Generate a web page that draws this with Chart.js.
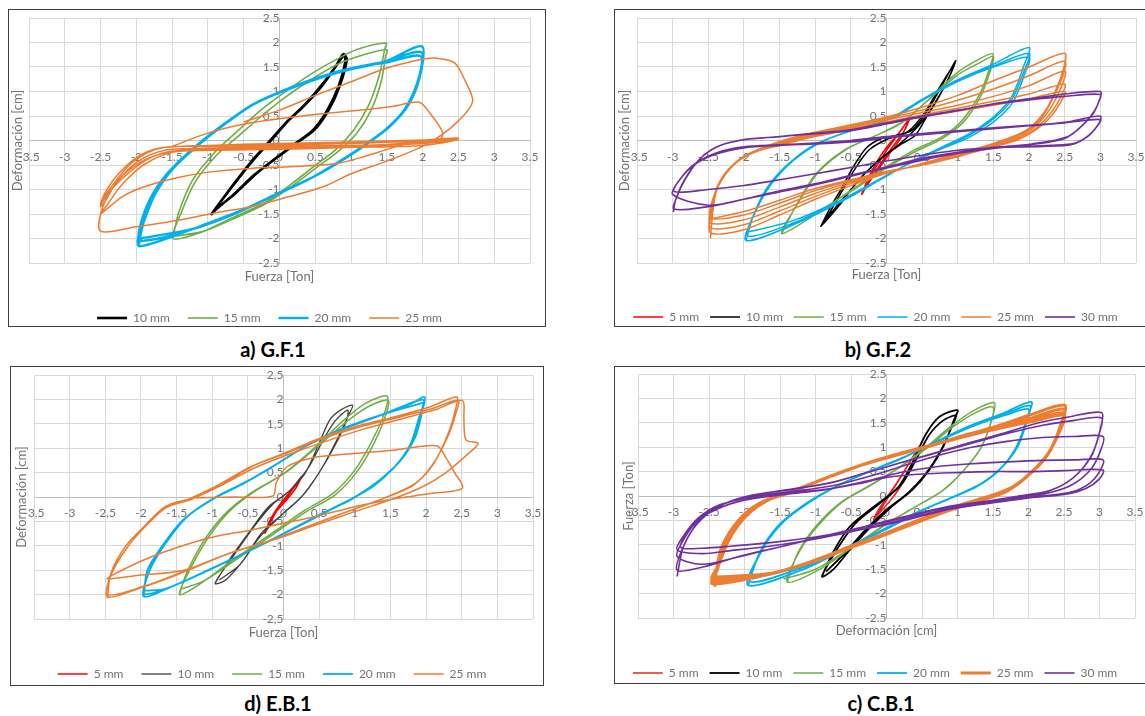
<!DOCTYPE html>
<html>
<head>
<meta charset="utf-8">
<script src="https://cdn.jsdelivr.net/npm/chart.js@4.4.1/dist/chart.umd.min.js"></script>
<style>
  body { margin: 0; width: 1145px; height: 716px; overflow: hidden; background: #fff; }
  .panel { position: absolute; border: 1px solid #404040; overflow: hidden; background: #fff; box-sizing: border-box; }
  .panel canvas { position: absolute; left: 0; top: 0; }
  .cap { position: absolute; width: 200px; text-align: center; font: bold 20px Lato, sans-serif; color: #000; line-height: 24px; }
</style>
</head>
<body>
<script>
// ---------- a) G.F.1  (x: Fuerza [Ton], y: Deformación [cm]) ----------
const gf1_10 = [[-0.95,-1.5],[-0.66,-0.93],[-0.41,-0.46],[-0.16,-0.05],[0.09,0.36],[0.34,0.7],[0.59,1.11],[0.79,1.52],[0.89,1.76],[0.94,1.65],[0.84,1.11],[0.69,0.63],[0.49,0.22],[0.24,-0.05],[-0.01,-0.32],[-0.31,-0.66],[-0.61,-1.07],[-0.86,-1.37],[-0.95,-1.5],[-0.64,-0.9],[-0.38,-0.42],[-0.12,0.0],[0.12,0.4],[0.36,0.74],[0.6,1.15],[0.78,1.5],[0.9,1.74],[0.92,1.6],[0.82,1.08],[0.66,0.6],[0.46,0.2],[0.2,-0.08],[-0.05,-0.36],[-0.35,-0.7],[-0.64,-1.1],[-0.9,-1.42]];
const gf1_15 = [[-1.49,-2.0],[-1.41,-1.48],[-1.21,-0.8],[-0.91,-0.25],[-0.61,0.16],[-0.31,0.56],[-0.01,0.9],[0.39,1.31],[0.79,1.65],[1.09,1.86],[1.49,1.99],[1.47,1.86],[1.39,1.31],[1.24,0.7],[1.04,0.22],[0.79,-0.18],[0.49,-0.52],[0.19,-0.86],[-0.21,-1.27],[-0.71,-1.61],[-1.11,-1.88],[-1.49,-2.0],[-1.38,-1.5],[-1.18,-0.85],[-0.88,-0.3],[-0.55,0.12],[-0.25,0.5],[0.05,0.85],[0.45,1.25],[0.85,1.58],[1.2,1.76],[1.5,1.85],[1.48,1.7],[1.42,1.2],[1.28,0.62],[1.08,0.15],[0.82,-0.22],[0.52,-0.55],[0.22,-0.88],[-0.18,-1.28],[-0.68,-1.62],[-1.08,-1.86],[-1.45,-1.95]];
const gf1_20 = [[-1.96,-2.16],[-1.96,-1.82],[-1.81,-1.2],[-1.56,-0.66],[-1.21,-0.18],[-0.81,0.29],[-0.41,0.7],[-0.01,0.97],[0.49,1.24],[0.99,1.45],[1.49,1.62],[1.99,1.92],[1.96,1.3],[1.8,0.72],[1.55,0.3],[1.24,-0.05],[0.89,-0.39],[0.49,-0.73],[-0.01,-1.07],[-0.51,-1.41],[-1.11,-1.75],[-1.61,-2.02],[-1.96,-2.16],[-1.98,-2.05],[-1.94,-1.75],[-1.78,-1.15],[-1.52,-0.6],[-1.18,-0.13],[-0.78,0.33],[-0.38,0.73],[0.02,1.0],[0.5,1.26],[1.0,1.47],[1.5,1.62],[1.98,1.8],[1.95,1.25],[1.78,0.68],[1.52,0.26],[1.2,-0.08],[0.85,-0.42],[0.45,-0.76],[-0.05,-1.1],[-0.55,-1.44],[-1.15,-1.78],[-1.62,-1.98],[-1.98,-2.05],[-1.95,-1.97],[-1.9,-1.68],[-1.74,-1.1],[-1.48,-0.56],[-1.14,-0.1],[-0.74,0.36],[-0.34,0.76],[0.05,1.02],[0.52,1.28],[1.02,1.48],[1.52,1.6],[1.97,1.72],[1.93,1.2],[1.75,0.64],[1.48,0.22],[1.16,-0.12],[0.8,-0.46],[0.4,-0.8],[-0.1,-1.14],[-0.6,-1.48],[-1.2,-1.8],[-1.95,-2.0]];
const gf1_25 = [[-1.5,-0.12],[-1.0,0.15],[-0.4,0.36],[0.5,0.53],[1.0,0.6],[1.6,0.7],[1.95,0.78],[2.1,0.56],[2.28,0.16],[2.22,0.0],[1.5,-0.1],[0.5,-0.13],[-0.5,-0.16],[-1.2,-0.2],[-1.6,-0.25],[-1.95,-0.45],[-2.25,-0.8],[-2.42,-1.2],[-2.5,-1.35],[-2.45,-1.15],[-2.3,-0.85],[-2.1,-0.5],[-1.85,-0.25],[-1.6,-0.14],[-1.0,-0.1],[0,-0.06],[1.0,-0.03],[2.0,0.01],[2.5,0.04],[2.0,-0.06],[1.0,-0.11],[0,-0.15],[-1.0,-0.18],[-1.5,-0.22],[-1.8,-0.35],[-2.1,-0.65],[-2.35,-1.0],[-2.5,-1.3],[-2.42,-1.02],[-2.25,-0.68],[-2.0,-0.35],[-1.75,-0.18],[-1.5,-0.12],[-1.0,-0.12],[0,-0.09],[1.0,-0.06],[2.0,-0.01],[2.5,0.02],[2.0,-0.1],[1.0,-0.14],[0,-0.18],[-1.0,-0.2],[-1.5,-0.24],[-1.9,-0.5],[-2.2,-0.9],[-2.4,-1.3],[-2.5,-1.5],[-2.2,-1.15],[-1.9,-0.95],[-1.4,-0.75],[-0.9,-0.63],[-0.4,-0.57],[0.2,-0.53],[0.8,-0.47],[1.2,-0.32],[1.6,-0.14],[2.0,0.0],[2.5,0.05],[1.5,-0.08],[0,-0.12],[-1.0,-0.16],[-1.6,-0.2],[-2.0,-0.45],[-2.3,-0.9],[-2.48,-1.4],[-2.5,-1.85],[-2.0,-1.76],[-1.5,-1.65],[-0.9,-1.48],[-0.4,-1.35],[0.0,-1.2],[0.6,-0.95],[1.0,-0.68],[1.5,-0.42],[2.0,-0.12],[2.3,0.15],[2.5,0.4],[2.65,0.65],[2.7,0.84],[2.6,1.2],[2.45,1.58],[2.2,1.68],[2.0,1.66],[1.5,1.48],[1.0,1.2],[0.5,0.92],[0.0,0.62],[-0.5,0.38]];

// ---------- b) G.F.2 ----------
const gf2_5 = [[-0.35,-1.1],[-0.25,-0.75],[-0.1,-0.35],[0.05,-0.05],[0.2,0.2],[0.33,0.48],[0.25,0.2],[0.1,-0.1],[-0.05,-0.4],[-0.2,-0.75],[-0.35,-1.1],[-0.15,-0.55],[0.0,-0.2],[0.15,0.1],[0.3,0.4],[0.2,0.05],[0.05,-0.25],[-0.12,-0.6],[-0.3,-0.95]];
const gf2_10 = [[-0.92,-1.75],[-0.8,-1.4],[-0.62,-0.95],[-0.45,-0.5],[-0.28,-0.15],[-0.1,0.02],[0.12,0.1],[0.35,0.2],[0.55,0.55],[0.75,1.05],[0.97,1.63],[0.88,1.3],[0.72,0.85],[0.55,0.45],[0.4,0.1],[0.2,-0.08],[-0.1,-0.4],[-0.4,-0.82],[-0.65,-1.3],[-0.92,-1.75],[-0.85,-1.6],[-0.65,-1.1],[-0.45,-0.6],[-0.25,-0.2],[0,0.02],[0.3,0.18],[0.55,0.6],[0.75,1.1],[0.95,1.55],[0.85,1.2],[0.65,0.7],[0.45,0.3],[0.2,-0.05],[-0.15,-0.45],[-0.5,-1.0],[-0.85,-1.6]];
const gf2_15 = [[-1.47,-1.9],[-1.28,-1.36],[-0.99,-0.68],[-0.6,-0.2],[-0.2,0.07],[0.19,0.34],[0.58,0.82],[0.97,1.36],[1.26,1.63],[1.49,1.77],[1.45,1.5],[1.31,0.95],[1.06,0.41],[0.77,0.07],[0.38,-0.2],[-0.01,-0.54],[-0.5,-1.02],[-0.99,-1.5],[-1.47,-1.9],[-1.25,-1.3],[-0.95,-0.64],[-0.55,-0.17],[-0.15,0.1],[0.22,0.38],[0.6,0.84],[1.0,1.34],[1.3,1.58],[1.5,1.72],[1.46,1.44],[1.32,0.9],[1.08,0.38],[0.78,0.04],[0.4,-0.23],[0.0,-0.56],[-0.5,-1.04],[-1.0,-1.48],[-1.45,-1.82]];
const gf2_20 = [[-1.97,-2.04],[-1.86,-1.5],[-1.67,-0.95],[-1.38,-0.48],[-0.99,-0.07],[-0.5,0.2],[0,0.41],[0.48,0.82],[0.97,1.22],[1.5,1.56],[2.0,1.9],[1.92,1.5],[1.75,0.88],[1.5,0.48],[1.16,0.14],[0.77,-0.14],[0.38,-0.41],[-0.11,-0.82],[-0.6,-1.22],[-1.28,-1.7],[-1.97,-2.04],[-1.84,-1.45],[-1.64,-0.9],[-1.34,-0.44],[-0.95,-0.05],[-0.45,0.22],[0.05,0.44],[0.5,0.84],[1.0,1.22],[1.5,1.52],[2.0,1.78],[1.93,1.42],[1.76,0.84],[1.5,0.44],[1.15,0.1],[0.75,-0.17],[0.35,-0.44],[-0.15,-0.84],[-0.65,-1.24],[-1.3,-1.68],[-1.95,-1.95],[-1.82,-1.4],[-1.6,-0.86],[-1.3,-0.4],[-0.9,-0.02],[-0.4,0.25],[0.1,0.47],[0.55,0.86],[1.02,1.22],[1.5,1.5],[2.0,1.7],[1.94,1.36],[1.78,0.8],[1.52,0.4],[1.15,0.06],[0.72,-0.2],[0.32,-0.47],[-0.2,-0.87],[-0.7,-1.26],[-1.32,-1.64],[-1.98,-1.88]];
const gf2_25 = [[-2.47,-2.0],[-2.44,-1.5],[-2.38,-1.0],[-2.2,-0.58],[-2.0,-0.32],[-1.5,-0.02],[-1.0,0.17],[-0.5,0.32],[0.0,0.48],[0.5,0.68],[1.0,0.92],[1.5,1.22],[2.0,1.5],[2.5,1.78],[2.48,1.45],[2.35,0.95],[2.2,0.55],[1.95,0.2],[1.5,-0.06],[1.0,-0.26],[0.5,-0.47],[0.0,-0.67],[-0.5,-0.92],[-1.0,-1.2],[-1.5,-1.52],[-2.0,-1.82],[-2.47,-1.88],[-2.44,-1.4],[-2.36,-0.92],[-2.18,-0.55],[-1.95,-0.3],[-1.5,-0.04],[-1.0,0.14],[-0.5,0.3],[0.0,0.45],[0.5,0.62],[1.0,0.82],[1.5,1.05],[2.0,1.32],[2.5,1.62],[2.47,1.3],[2.33,0.85],[2.18,0.48],[1.92,0.15],[1.5,-0.08],[1.0,-0.28],[0.5,-0.48],[0.0,-0.66],[-0.5,-0.88],[-1.0,-1.14],[-1.5,-1.44],[-2.0,-1.72],[-2.47,-1.78],[-2.43,-1.3],[-2.34,-0.86],[-2.15,-0.5],[-1.9,-0.27],[-1.5,-0.06],[-1.0,0.12],[-0.5,0.28],[0.0,0.42],[0.5,0.57],[1.0,0.72],[1.5,0.9],[2.0,1.12],[2.5,1.42],[2.46,1.12],[2.32,0.7],[2.15,0.38],[1.9,0.1],[1.5,-0.1],[1.0,-0.3],[0.5,-0.49],[0.0,-0.65],[-0.5,-0.85],[-1.0,-1.08],[-1.5,-1.36],[-2.0,-1.62],[-2.47,-1.68],[-2.42,-1.2],[-2.32,-0.8],[-2.12,-0.46],[-1.85,-0.24],[-1.5,-0.08],[-1.0,0.1],[-0.5,0.25],[0.0,0.38],[0.5,0.52],[1.0,0.66],[1.5,0.8],[2.0,0.95],[2.5,1.15],[2.45,0.9],[2.3,0.55],[2.12,0.28],[1.88,0.05],[1.5,-0.12],[1.0,-0.32],[0.5,-0.5],[0.0,-0.64],[-0.5,-0.82],[-1.0,-1.02],[-1.5,-1.28],[-2.0,-1.52],[-2.47,-1.58],[-2.42,-1.12],[-2.3,-0.74],[-2.1,-0.43],[-1.82,-0.22],[-1.5,-0.1],[-1.0,0.08],[-0.5,0.22],[0.0,0.35],[0.5,0.48],[1.0,0.6],[1.5,0.72],[2.0,0.85],[2.5,1.0],[2.45,0.8],[2.3,0.48],[2.1,0.22],[1.85,0.02],[1.5,-0.13],[1.0,-0.33],[0.5,-0.5],[0.0,-0.63],[-0.5,-0.8],[-1.0,-0.98],[-1.5,-1.22],[-2.0,-1.45],[-2.47,-1.6]];
const gf2_30 = [[-2.99,-1.46],[-2.96,-1.22],[-2.84,-0.82],[-2.64,-0.41],[-2.4,-0.14],[-2.06,0.0],[-1.57,0.07],[-0.99,0.14],[-0.5,0.2],[0,0.34],[0.48,0.48],[1.0,0.61],[1.5,0.75],[2.0,0.85],[2.5,0.95],[3.0,1.0],[3.0,0.88],[2.92,0.61],[2.77,0.34],[2.53,0.07],[2.04,-0.07],[1.5,-0.14],[1.0,-0.24],[0.48,-0.37],[0,-0.54],[-0.5,-0.71],[-0.99,-0.88],[-1.57,-1.05],[-2.06,-1.22],[-2.55,-1.36],[-2.98,-1.4],[-2.94,-1.15],[-2.82,-0.78],[-2.62,-0.38],[-2.36,-0.12],[-2.0,0.02],[-1.5,0.08],[-1.0,0.15],[-0.5,0.22],[0,0.36],[0.5,0.5],[1.0,0.62],[1.5,0.74],[2.0,0.83],[2.5,0.9],[3.0,0.94],[2.98,0.8],[2.9,0.55],[2.74,0.3],[2.5,0.04],[2.0,-0.09],[1.5,-0.16],[1.0,-0.26],[0.5,-0.4],[0,-0.56],[-0.5,-0.73],[-1.0,-0.9],[-1.5,-1.05],[-2.0,-1.2],[-2.5,-1.32],[-3.0,-1.1],[-2.9,-0.8],[-2.7,-0.5],[-2.4,-0.28],[-2.0,-0.15],[-1.5,-0.1],[-1.0,-0.07],[-0.5,-0.03],[0,0.05],[0.5,0.12],[1.0,0.18],[1.5,0.24],[2.0,0.3],[2.5,0.37],[3.0,0.5],[2.98,0.35],[2.85,0.12],[2.65,-0.05],[2.3,-0.1],[2.0,-0.12],[1.5,-0.15],[1.0,-0.2],[0.5,-0.3],[0,-0.42],[-0.5,-0.55],[-1.0,-0.68],[-1.5,-0.8],[-2.0,-0.92],[-2.5,-1.0],[-2.98,-1.04],[-2.88,-0.76],[-2.68,-0.47],[-2.38,-0.25],[-2.0,-0.13],[-1.5,-0.09],[-1.0,-0.05],[-0.5,0.0],[0,0.08],[0.5,0.14],[1.0,0.2],[1.5,0.26],[2.0,0.31],[2.5,0.36],[3.0,0.43],[2.96,0.3],[2.82,0.08],[2.6,-0.08],[2.2,-0.12],[1.5,-0.14]];

// ---------- d) E.B.1 ----------
const eb1_5 = [[-0.26,-0.74],[-0.18,-0.45],[-0.05,-0.15],[0.1,0.12],[0.25,0.42],[0.18,0.2],[0.05,-0.05],[-0.1,-0.3],[-0.2,-0.55],[-0.26,-0.74],[-0.1,-0.3],[0.05,0.0],[0.2,0.3],[0.25,0.4]];
const eb1_10 = [[-0.96,-1.77],[-0.76,-1.29],[-0.46,-0.68],[-0.21,-0.2],[0.05,0.08],[0.3,0.48],[0.5,1.1],[0.65,1.58],[0.8,1.78],[0.97,1.88],[0.9,1.64],[0.75,1.17],[0.55,0.62],[0.3,0.08],[0,-0.33],[-0.31,-0.74],[-0.56,-1.29],[-0.81,-1.7],[-0.96,-1.77],[-0.7,-1.2],[-0.42,-0.62],[-0.15,-0.15],[0.1,0.15],[0.35,0.6],[0.55,1.15],[0.72,1.55],[0.9,1.78],[0.88,1.55],[0.72,1.05],[0.5,0.5],[0.25,0.0],[-0.05,-0.4],[-0.35,-0.85],[-0.62,-1.4],[-0.9,-1.7]];
const eb1_15 = [[-1.46,-2.0],[-1.36,-1.56],[-1.11,-0.88],[-0.81,-0.33],[-0.46,0.08],[0,0.48],[0.45,1.03],[0.85,1.58],[1.15,1.92],[1.45,2.07],[1.43,1.78],[1.25,1.17],[1.0,0.55],[0.7,0.08],[0.3,-0.27],[-0.16,-0.74],[-0.71,-1.29],[-1.16,-1.77],[-1.46,-2.0],[-1.3,-1.45],[-1.05,-0.82],[-0.75,-0.28],[-0.4,0.12],[0.05,0.52],[0.5,1.06],[0.9,1.56],[1.2,1.86],[1.47,1.98],[1.44,1.7],[1.27,1.1],[1.02,0.5],[0.72,0.04],[0.32,-0.3],[-0.14,-0.76],[-0.68,-1.3],[-1.12,-1.72],[-1.42,-1.88]];
const eb1_20 = [[-1.96,-2.04],[-1.91,-1.5],[-1.71,-1.02],[-1.41,-0.47],[-1.01,-0.06],[-0.56,0.28],[-0.16,0.62],[0.3,1.03],[0.8,1.37],[1.3,1.64],[1.8,1.92],[1.98,2.05],[1.95,1.78],[1.85,1.23],[1.65,0.76],[1.35,0.35],[1.0,0.0],[0.65,-0.27],[0.2,-0.61],[-0.36,-1.02],[-0.96,-1.43],[-1.56,-1.83],[-1.96,-2.04],[-1.88,-1.5],[-1.68,-0.98],[-1.38,-0.44],[-0.98,-0.03],[-0.52,0.31],[-0.12,0.65],[0.34,1.06],[0.84,1.4],[1.34,1.66],[1.85,1.96],[1.97,1.98],[1.93,1.7],[1.82,1.15],[1.6,0.68],[1.3,0.28],[0.95,-0.05],[0.6,-0.3],[0.15,-0.64],[-0.4,-1.05],[-1.0,-1.46],[-1.6,-1.85],[-1.95,-1.98],[-1.86,-1.45],[-1.65,-0.94],[-1.35,-0.4],[-0.95,0.0],[-0.5,0.33],[-0.1,0.67],[0.36,1.08],[0.86,1.42],[1.36,1.68],[1.88,1.9],[1.96,1.92],[1.9,1.62],[1.78,1.08],[1.56,0.62],[1.26,0.22],[0.9,-0.08],[0.55,-0.33],[0.1,-0.67],[-0.45,-1.08],[-1.05,-1.5],[-1.65,-1.88],[-1.94,-1.92]];
const eb1_25 = [[-2.47,-2.08],[-2.42,-1.56],[-2.22,-1.02],[-1.96,-0.61],[-1.66,-0.2],[-1.36,-0.06],[-0.96,0.21],[-0.46,0.62],[0,0.89],[0.45,1.17],[1.0,1.44],[1.55,1.64],[2.06,1.85],[2.43,2.05],[2.41,1.78],[2.31,1.3],[2.11,0.69],[1.85,0.28],[1.45,0.0],[0.95,-0.27],[0.45,-0.54],[-0.16,-0.88],[-0.76,-1.15],[-1.46,-1.56],[-1.96,-1.83],[-2.47,-2.0],[-2.4,-1.5],[-2.2,-0.98],[-1.93,-0.58],[-1.62,-0.17],[-1.3,-0.03],[-0.9,0.24],[-0.42,0.64],[0.05,0.9],[0.5,1.17],[1.05,1.43],[1.6,1.63],[2.1,1.82],[2.45,1.98],[2.42,1.72],[2.3,1.22],[2.08,0.64],[1.82,0.24],[1.4,-0.03],[0.9,-0.3],[0.4,-0.57],[-0.2,-0.9],[-0.8,-1.18],[-1.5,-1.6],[-2.0,-1.86],[-2.47,-2.05],[-2.42,-1.6],[-2.2,-1.05],[-1.95,-0.62],[-1.65,-0.22],[-1.3,-0.05],[-0.9,0.22],[-0.4,0.6],[0.05,0.86],[0.55,1.12],[1.1,1.38],[1.65,1.6],[2.15,1.8],[2.51,1.98],[2.53,1.6],[2.56,1.17],[2.73,1.1],[2.6,0.9],[2.26,0.48],[1.95,0.21],[1.55,-0.03],[1.0,-0.3],[0.5,-0.55],[-0.1,-0.86],[-0.7,-1.12],[-1.4,-1.5],[-2.0,-1.6],[-2.47,-1.68],[-2.4,-1.6],[-1.96,-1.29],[-1.46,-1.02],[-0.96,-0.81],[-0.46,-0.68],[0,-0.54],[0.45,-0.4],[1.0,-0.2],[1.5,-0.05],[2.06,0.07],[2.51,0.18],[2.4,0.5],[2.28,0.8],[2.15,1.05],[1.55,0.96],[0.9,0.88],[0.4,0.8],[0.05,0.62],[-0.1,0.3],[-0.15,0.02],[-0.7,0.0],[-1.3,-0.02]];

// ---------- c) C.B.1  (x: Deformación [cm], y: Fuerza [Ton]) ----------
const cb1_5 = [[-0.18,-0.49],[-0.05,-0.2],[0.1,0.15],[0.25,0.5],[0.46,1.01],[0.35,0.6],[0.2,0.2],[0.05,-0.1],[-0.1,-0.35],[-0.18,-0.49],[-0.12,-0.3],[0.02,0.0],[0.18,0.35],[0.35,0.75],[0.46,0.98]];
const cb1_10 = [[-0.91,-1.65],[-0.76,-1.17],[-0.52,-0.63],[-0.18,-0.22],[0.17,0.19],[0.36,0.67],[0.56,1.28],[0.75,1.63],[1.0,1.76],[0.95,1.56],[0.8,1.01],[0.6,0.53],[0.36,0.12],[0.07,-0.22],[-0.22,-0.63],[-0.52,-1.11],[-0.76,-1.52],[-0.91,-1.65],[-0.7,-1.1],[-0.45,-0.58],[-0.12,-0.18],[0.2,0.22],[0.4,0.7],[0.6,1.25],[0.8,1.55],[0.98,1.65],[0.93,1.45],[0.76,0.92],[0.55,0.45],[0.3,0.06],[0.0,-0.28],[-0.3,-0.7],[-0.58,-1.16],[-0.85,-1.55]];
const cb1_15 = [[-1.4,-1.76],[-1.25,-1.17],[-1.0,-0.63],[-0.66,-0.15],[-0.27,0.19],[0.12,0.53],[0.51,0.94],[0.9,1.42],[1.24,1.76],[1.52,1.91],[1.48,1.56],[1.34,1.01],[1.09,0.53],[0.8,0.12],[0.41,-0.22],[0.02,-0.56],[-0.47,-1.04],[-0.96,-1.52],[-1.4,-1.76],[-1.22,-1.12],[-0.96,-0.6],[-0.62,-0.12],[-0.22,0.22],[0.16,0.56],[0.55,0.96],[0.94,1.42],[1.27,1.72],[1.5,1.82],[1.47,1.5],[1.32,0.96],[1.06,0.48],[0.76,0.08],[0.36,-0.26],[-0.04,-0.6],[-0.52,-1.08],[-1.0,-1.5],[-1.45,-1.7]];
const cb1_20 = [[-1.95,-1.83],[-1.79,-1.17],[-1.54,-0.63],[-1.2,-0.22],[-0.81,0.12],[-0.32,0.46],[0.17,0.74],[0.65,1.08],[1.14,1.42],[1.63,1.69],[2.04,1.93],[1.99,1.63],[1.87,1.08],[1.63,0.6],[1.34,0.26],[0.95,-0.01],[0.51,-0.29],[-0.03,-0.7],[-0.61,-1.11],[-1.2,-1.52],[-1.95,-1.83],[-1.76,-1.12],[-1.5,-0.6],[-1.16,-0.19],[-0.77,0.15],[-0.28,0.48],[0.2,0.76],[0.68,1.1],[1.17,1.42],[1.66,1.68],[2.02,1.85],[1.98,1.56],[1.85,1.02],[1.6,0.55],[1.3,0.22],[0.9,-0.04],[0.46,-0.32],[-0.08,-0.72],[-0.66,-1.13],[-1.25,-1.5],[-1.92,-1.75],[-1.74,-1.08],[-1.48,-0.56],[-1.12,-0.16],[-0.74,0.17],[-0.25,0.5],[0.22,0.78],[0.7,1.1],[1.2,1.42],[1.68,1.66],[2.0,1.78],[1.96,1.5],[1.82,0.98],[1.58,0.52],[1.28,0.2],[0.88,-0.06],[0.42,-0.34],[-0.12,-0.74],[-0.7,-1.15],[-1.3,-1.48],[-1.9,-1.7]];
const cb1_25 = [[-2.42,-1.86],[-2.4,-1.58],[-2.32,-1.04],[-2.08,-0.49],[-1.79,-0.15],[-1.4,0.05],[-0.91,0.33],[-0.42,0.6],[0.07,0.81],[0.56,1.01],[1.04,1.22],[1.53,1.42],[2.02,1.66],[2.51,1.86],[2.46,1.49],[2.31,0.94],[2.07,0.53],[1.78,0.19],[1.43,-0.01],[0.95,-0.22],[0.46,-0.49],[-0.03,-0.77],[-0.52,-1.04],[-1.0,-1.31],[-1.59,-1.58],[-2.45,-1.8],[-2.38,-1.5],[-2.28,-0.98],[-2.04,-0.45],[-1.75,-0.12],[-1.36,0.08],[-0.87,0.36],[-0.38,0.62],[0.1,0.82],[0.6,1.02],[1.08,1.22],[1.56,1.4],[2.05,1.6],[2.5,1.78],[2.45,1.42],[2.28,0.88],[2.04,0.48],[1.75,0.15],[1.4,-0.04],[0.92,-0.25],[0.42,-0.52],[-0.07,-0.8],[-0.56,-1.07],[-1.04,-1.34],[-1.63,-1.6],[-2.45,-1.74],[-2.37,-1.44],[-2.25,-0.93],[-2.0,-0.42],[-1.7,-0.1],[-1.32,0.1],[-0.83,0.38],[-0.34,0.64],[0.13,0.84],[0.63,1.03],[1.1,1.22],[1.6,1.4],[2.08,1.56],[2.5,1.7],[2.44,1.36],[2.26,0.83],[2.0,0.44],[1.72,0.12],[1.38,-0.06],[0.9,-0.28],[0.4,-0.55],[-0.1,-0.83],[-0.6,-1.1],[-1.08,-1.36],[-1.66,-1.6],[-2.45,-1.7],[-2.36,-1.4],[-2.22,-0.9],[-1.97,-0.4],[-1.66,-0.08],[-1.28,0.12],[-0.8,0.4],[-0.3,0.66],[0.16,0.86],[0.66,1.05],[1.13,1.23],[1.62,1.4],[2.1,1.54],[2.5,1.65],[2.43,1.3],[2.24,0.78],[1.98,0.4],[1.7,0.1],[1.36,-0.08],[0.88,-0.3],[0.38,-0.57],[-0.12,-0.85],[-0.62,-1.12],[-1.1,-1.38],[-1.7,-1.6],[-2.45,-1.66]];
const cb1_30 = [[-2.95,-1.65],[-2.86,-1.04],[-2.66,-0.56],[-2.37,-0.22],[-1.98,-0.01],[-1.4,0.12],[-0.81,0.26],[-0.32,0.46],[0.17,0.67],[0.65,0.87],[1.14,1.08],[1.63,1.28],[2.12,1.49],[2.6,1.63],[3.03,1.71],[3.02,1.42],[2.9,0.87],[2.65,0.4],[2.31,0.12],[1.82,-0.01],[1.34,-0.12],[0.85,-0.22],[0.26,-0.42],[-0.32,-0.63],[-0.91,-0.83],[-1.49,-1.04],[-2.08,-1.24],[-2.57,-1.45],[-2.95,-1.52],[-2.85,-1.0],[-2.64,-0.52],[-2.34,-0.2],[-1.95,0.0],[-1.38,0.13],[-0.8,0.27],[-0.3,0.47],[0.2,0.68],[0.7,0.88],[1.2,1.08],[1.7,1.28],[2.2,1.45],[2.65,1.55],[3.03,1.6],[3.0,1.3],[2.88,0.8],[2.62,0.36],[2.28,0.1],[1.8,-0.03],[1.3,-0.14],[0.8,-0.25],[0.2,-0.46],[-0.38,-0.66],[-0.96,-0.86],[-1.55,-1.06],[-2.12,-1.26],[-2.6,-1.4],[-2.95,-1.24],[-2.86,-0.9],[-2.66,-0.5],[-2.36,-0.2],[-1.95,-0.03],[-1.4,0.08],[-0.8,0.2],[-0.3,0.38],[0.2,0.6],[0.7,0.82],[1.2,1.0],[1.7,1.12],[2.2,1.2],[2.65,1.22],[3.05,1.22],[3.02,0.95],[2.88,0.55],[2.6,0.22],[2.25,0.05],[1.8,-0.06],[1.3,-0.16],[0.8,-0.28],[0.2,-0.5],[-0.4,-0.7],[-1.0,-0.88],[-1.6,-1.02],[-2.2,-1.12],[-2.6,-1.18],[-2.95,-1.1],[-2.85,-0.8],[-2.65,-0.45],[-2.35,-0.18],[-1.95,-0.04],[-1.4,0.06],[-0.8,0.15],[-0.3,0.3],[0.2,0.48],[0.7,0.6],[1.2,0.66],[1.7,0.7],[2.2,0.73],[2.65,0.74],[3.05,0.74],[3.0,0.5],[2.85,0.25],[2.6,0.08],[2.2,0.0],[1.8,-0.08],[1.3,-0.18],[0.8,-0.3],[0.2,-0.52],[-0.4,-0.7],[-1.0,-0.84],[-1.6,-0.95],[-2.2,-1.03],[-2.6,-1.07],[-2.9,-1.05],[-2.75,-0.65],[-2.5,-0.35],[-2.1,-0.12],[-1.5,0.02],[-0.9,0.12],[-0.4,0.25],[0.0,0.38],[0.5,0.45],[1.0,0.48],[1.5,0.5],[2.0,0.5],[2.5,0.52],[3.05,0.53],[3.0,0.35],[2.8,0.15],[2.5,0.03],[2.0,-0.04]];

const seriesLabels = ['5 mm', '10 mm', '15 mm', '20 mm', '25 mm', '30 mm'];

const RED = '#ff0000', BLACK = '#000000', GREEN = '#70ad47', BLUE = '#00b0f0', ORANGE = '#ed7d31', PURPLE = '#7030a0';

// box = [left, top, width, height] of the framed panel; canvas is taller and clipped so the legend sits low
const panels = [
  { box: [8, 9, 538, 318], canvasH: 324, caption: 'a) G.F.1', capAt: [273, 349],
    xTitle: 'Fuerza [Ton]', yTitle: 'Deformación [cm]', comma: false,
    pad: { left: 0, right: 15, top: 8 }, yTitlePad: { top: 1.2, bottom: 3.2 }, xTitlePad: { top: 5.9, bottom: 9.5 }, legendPad: 18,
    series: [
      { label: seriesLabels[1], data: gf1_10, color: BLACK, width: 2.6 },
      { label: seriesLabels[2], data: gf1_15, color: GREEN, width: 1.6 },
      { label: seriesLabels[3], data: gf1_20, color: BLUE, width: 2.4 },
      { label: seriesLabels[4], data: gf1_25, color: ORANGE, width: 1.5 },
    ] },
  { box: [614, 9, 545, 318], canvasH: 323, caption: 'b) G.F.2', capAt: [878, 349],
    xTitle: 'Fuerza [Ton]', yTitle: 'Deformación [cm]', comma: false,
    pad: { left: 0, right: 22, top: 8 }, yTitlePad: { top: 2.2, bottom: 4.2 }, xTitlePad: { top: 4.5, bottom: 16.9 }, legendPad: 11,
    series: [
      { label: seriesLabels[0], data: gf2_5, color: RED, width: 1.5 },
      { label: seriesLabels[1], data: gf2_10, color: BLACK, width: 1.5 },
      { label: seriesLabels[2], data: gf2_15, color: GREEN, width: 1.5 },
      { label: seriesLabels[3], data: gf2_20, color: BLUE, width: 1.5 },
      { label: seriesLabels[4], data: gf2_25, color: ORANGE, width: 1.5 },
      { label: seriesLabels[5], data: gf2_30, color: PURPLE, width: 1.6 },
    ] },
  { box: [10, 366, 534, 320], canvasH: 323, caption: 'd) E.B.1', capAt: [278, 703],
    xTitle: 'Fuerza [Ton]', yTitle: 'Deformación [cm]', comma: true,
    pad: { left: 0, right: 10, top: 8 }, yTitlePad: { top: 2.7, bottom: 4.7 }, xTitlePad: { top: 6.2, bottom: 9.2 }, legendPad: 18,
    series: [
      { label: seriesLabels[0], data: eb1_5, color: RED, width: 1.5 },
      { label: seriesLabels[1], data: eb1_10, color: '#404040', width: 1.3 },
      { label: seriesLabels[2], data: eb1_15, color: GREEN, width: 1.5 },
      { label: seriesLabels[3], data: eb1_20, color: BLUE, width: 1.8 },
      { label: seriesLabels[4], data: eb1_25, color: ORANGE, width: 1.5 },
    ] },
  { box: [614, 366, 545, 318], canvasH: 322, caption: 'c) C.B.1', capAt: [881, 703],
    xTitle: 'Deformación [cm]', yTitle: 'Fuerza [Ton]', comma: false,
    pad: { left: 0, right: 23, top: 7 }, yTitlePad: { top: 5.7, bottom: 1.7 }, xTitlePad: { top: 4.9, bottom: 17.5 }, legendPad: 11,
    series: [
      { label: seriesLabels[0], data: cb1_5, color: '#e8231f', width: 1.5 },
      { label: seriesLabels[1], data: cb1_10, color: BLACK, width: 1.8 },
      { label: seriesLabels[2], data: cb1_15, color: GREEN, width: 1.5 },
      { label: seriesLabels[3], data: cb1_20, color: BLUE, width: 1.8 },
      { label: seriesLabels[4], data: cb1_25, color: ORANGE, width: 3 },
      { label: seriesLabels[5], data: cb1_30, color: PURPLE, width: 1.6 },
    ] },
];

const FONT = 'Lato, "Open Sans", sans-serif';
const GREY = '#737373';

function tickText(v, comma) {
  const s = String(Math.round(v * 10) / 10);
  return comma ? s.replace('.', ',') : s;
}

// axes that sit on the zero lines should not push the plot area around
function noOverhang(scale) {
  scale.paddingLeft = 0;
  scale.paddingRight = 0;
  scale.paddingTop = 0;
  scale.paddingBottom = 0;
}

panels.forEach(p => {
  const [left, top, w, h] = p.box;
  const div = document.createElement('div');
  div.className = 'panel';
  Object.assign(div.style, { left: left + 'px', top: top + 'px', width: w + 'px', height: h + 'px' });
  const canvas = document.createElement('canvas');
  canvas.width = w - 2;
  canvas.height = p.canvasH;
  div.appendChild(canvas);
  document.body.appendChild(div);

  const cap = document.createElement('div');
  cap.className = 'cap';
  cap.textContent = p.caption;
  cap.style.left = (p.capAt[0] - 100) + 'px';
  cap.style.top = (p.capAt[1] - 12) + 'px';
  document.body.appendChild(cap);

  const datasets = p.series.map((s, i) => ({
    label: s.label,
    data: s.data.map(([x, y]) => ({ x, y })),
    showLine: true,
    borderColor: s.color,
    backgroundColor: s.color,
    borderWidth: s.width,
    pointRadius: 0,
    pointStyle: 'line',
    pointBorderColor: s.color,
    pointBorderWidth: s.width,
    tension: 0.3,
    fill: false,
    order: -i,
    xAxisID: 'x',
    yAxisID: 'y',
  }));

  new Chart(canvas, {
    type: 'scatter',
    data: { datasets },
    options: {
      responsive: false,
      animation: false,
      devicePixelRatio: 1,
      events: [],
      layout: { padding: { left: p.pad.left, right: p.pad.right, top: p.pad.top, bottom: 0 } },
      plugins: {
        tooltip: { enabled: false },
        legend: {
          position: 'bottom',
          labels: {
            usePointStyle: true,
            pointStyleWidth: 30,
            padding: p.legendPad,
            color: GREY,
            font: { family: FONT, size: 12 },
            sort: (a, b) => a.datasetIndex - b.datasetIndex,
          },
        },
      },
      scales: {
        x: {
          type: 'linear',
          position: { y: 0 },
          min: -3.5, max: 3.5,
          afterFit: noOverhang,
          grid: { color: '#d9d9d9', drawTicks: false },
          border: { color: '#bfbfbf' },
          ticks: { stepSize: 0.5, autoSkip: false, maxRotation: 0, padding: 9, color: GREY,
                   font: { family: FONT, size: 12 }, callback: v => tickText(v, p.comma) },
        },
        y: {
          type: 'linear',
          position: { x: 0 },
          min: -2.5, max: 2.5,
          afterFit: noOverhang,
          grid: { color: '#d9d9d9', drawTicks: false },
          border: { color: '#bfbfbf' },
          ticks: { stepSize: 0.5, autoSkip: false, padding: 5, color: GREY,
                   font: { family: FONT, size: 12 }, callback: v => tickText(v, p.comma) },
        },
        xTitle: {
          type: 'linear', axis: 'x', position: 'bottom',
          grid: { display: false, drawTicks: false }, border: { display: false }, ticks: { display: false },
          title: { display: true, text: p.xTitle, color: GREY, font: { family: FONT, size: 13 }, padding: p.xTitlePad },
        },
        yTitle: {
          type: 'linear', axis: 'y', position: 'left',
          grid: { display: false, drawTicks: false }, border: { display: false }, ticks: { display: false },
          title: { display: true, text: p.yTitle, color: GREY, font: { family: FONT, size: 13 }, padding: p.yTitlePad },
        },
      },
    },
  });
});
</script>
</body>
</html>
